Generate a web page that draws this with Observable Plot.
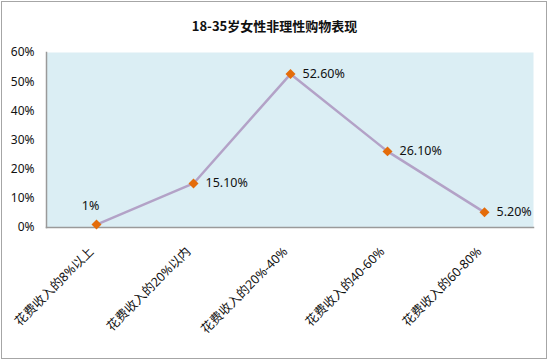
<!DOCTYPE html>
<html>
<head>
<meta charset="utf-8">
<script src="https://cdn.jsdelivr.net/npm/d3@7"></script>
<script src="https://cdn.jsdelivr.net/npm/@observablehq/plot@0.6"></script>
<style>
  html, body { margin: 0; padding: 0; background: #fff; }
  body { width: 550px; height: 362px; position: relative; overflow: hidden;
         font-family: "Noto Sans", "Noto Sans CJK SC", sans-serif; }
  #box { position: absolute; left: 1px; top: 1px; width: 544px; height: 356px;
         border: 1.5px solid #a6a6a6; box-sizing: content-box; }
  #title { position: absolute; left: 0; top: 16px; width: 549px; text-align: center;
           font-size: 13px; font-weight: bold; color: #111;
           font-family: "Noto Sans CJK SC", "Noto Sans", sans-serif; }
  #chart { position: absolute; left: 0; top: 40px; }
</style>
</head>
<body>
<div id="box"></div>
<div id="title">18-35岁女性非理性购物表现</div>
<div id="chart"></div>
<script>
const categories = ["花费收入的8%以上", "花费收入的20%以内", "花费收入的20%-40%", "花费收入的40-60%", "花费收入的60-80%"];
const values = [1, 15.1, 52.6, 26.1, 5.2];
const valueLabels = ["1%", "15.10%", "52.60%", "26.10%", "5.20%"];
const yTicks = [0, 10, 20, 30, 40, 50, 60];

const data = categories.map((c, i) => ({cat: c, v: values[i], label: valueLabels[i], first: i === 0}));

const font = "'Noto Sans', 'Noto Sans CJK SC', sans-serif";

const chart = Plot.plot({
  width: 550,
  height: 322,
  marginTop: 12,
  marginBottom: 135,
  marginLeft: 46,
  marginRight: 17,
  style: {fontFamily: font, fontSize: "12px", color: "#111", background: "transparent"},
  x: {type: "point", domain: categories, padding: 0.5, label: null},
  y: {domain: [0, 60], label: null},
  marks: [
    Plot.frame({fill: "#dbeef4", stroke: null}),
    Plot.frame({anchor: "left", stroke: "#9a9a9a", strokeWidth: 1.5}),
    Plot.frame({anchor: "bottom", stroke: "#9a9a9a", strokeWidth: 1.5}),
    Plot.axisY({ticks: yTicks, tickFormat: d => d + "%", tickSize: 0, tickPadding: 12, fontSize: 12, label: null}),
    Plot.axisX({tickSize: 0, tickRotate: -45, tickPadding: 22, dx: -5, fontSize: 12.5, label: null}),
    Plot.line(data, {x: "cat", y: "v", stroke: "#b3a2c7", strokeWidth: 2.5}),
    Plot.dot(data, {x: "cat", y: "v", symbol: "diamond2", fill: "#e46c0a", stroke: null, r: 4.5}),
    Plot.text(data.filter(d => !d.first), {x: "cat", y: "v", text: "label", dx: 12, textAnchor: "start", fontSize: 12.5, fill: "#111"}),
    Plot.text(data.filter(d => d.first), {x: "cat", y: "v", text: "label", dx: -6, dy: -19, textAnchor: "middle", fontSize: 12.5, fill: "#111"})
  ]
});
document.getElementById("chart").appendChild(chart);
</script>
</body>
</html>
